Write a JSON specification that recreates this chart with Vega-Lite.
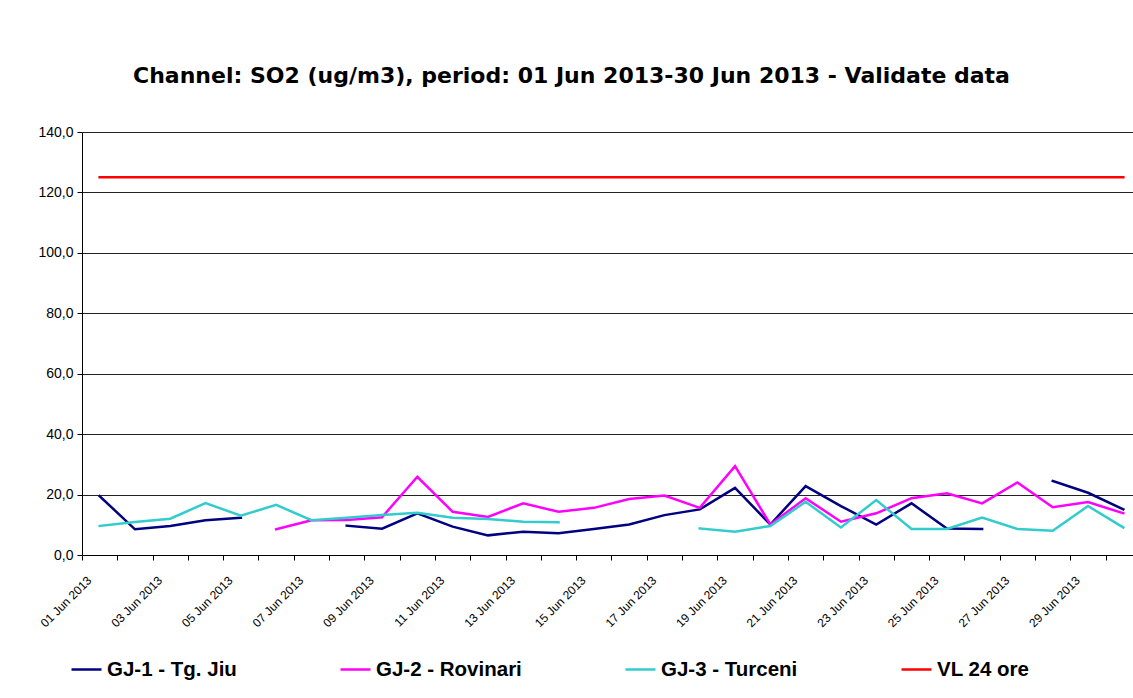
{
  "$schema": "https://vega.github.io/schema/vega-lite/v6.json",
  "width": 1051,
  "height": 423,
  "autosize": {"type": "none"},
  "padding": {"left": 82, "top": 132, "right": 0, "bottom": 143},
  "background": "white",
  "config": {
    "view": {"stroke": null},
    "axis": {"labelFont": "Liberation Sans", "labelColor": "black", "domainColor": "black", "tickColor": "black", "titleFont": "Liberation Sans"}
  },
  "title": {
    "text": "Channel: SO2 (ug/m3), period: 01 Jun 2013-30 Jun 2013 - Validate data",
    "font": "DejaVu Sans",
    "fontSize": 22,
    "fontWeight": "bold",
    "color": "black",
    "anchor": "middle",
    "dx": -36,
    "baseline": "alphabetic",
    "offset": 20
  },
  "data": {
    "values": [
      {"day": 1, "series": "GJ-1 - Tg. Jiu", "value": 19.5},
      {"day": 2, "series": "GJ-1 - Tg. Jiu", "value": 8.5},
      {"day": 3, "series": "GJ-1 - Tg. Jiu", "value": 9.6},
      {"day": 4, "series": "GJ-1 - Tg. Jiu", "value": 11.5},
      {"day": 5, "series": "GJ-1 - Tg. Jiu", "value": 12.3},
      {"day": 6, "series": "GJ-1 - Tg. Jiu", "value": null},
      {"day": 7, "series": "GJ-1 - Tg. Jiu", "value": null},
      {"day": 8, "series": "GJ-1 - Tg. Jiu", "value": 9.7},
      {"day": 9, "series": "GJ-1 - Tg. Jiu", "value": 8.7},
      {"day": 10, "series": "GJ-1 - Tg. Jiu", "value": 13.8},
      {"day": 11, "series": "GJ-1 - Tg. Jiu", "value": 9.4},
      {"day": 12, "series": "GJ-1 - Tg. Jiu", "value": 6.5},
      {"day": 13, "series": "GJ-1 - Tg. Jiu", "value": 7.7},
      {"day": 14, "series": "GJ-1 - Tg. Jiu", "value": 7.2},
      {"day": 15, "series": "GJ-1 - Tg. Jiu", "value": 8.6},
      {"day": 16, "series": "GJ-1 - Tg. Jiu", "value": 10.1},
      {"day": 17, "series": "GJ-1 - Tg. Jiu", "value": 13.2},
      {"day": 18, "series": "GJ-1 - Tg. Jiu", "value": 15.1},
      {"day": 19, "series": "GJ-1 - Tg. Jiu", "value": 22.2},
      {"day": 20, "series": "GJ-1 - Tg. Jiu", "value": 10.1},
      {"day": 21, "series": "GJ-1 - Tg. Jiu", "value": 22.8},
      {"day": 22, "series": "GJ-1 - Tg. Jiu", "value": 16.2},
      {"day": 23, "series": "GJ-1 - Tg. Jiu", "value": 10.1},
      {"day": 24, "series": "GJ-1 - Tg. Jiu", "value": 17.1},
      {"day": 25, "series": "GJ-1 - Tg. Jiu", "value": 8.8},
      {"day": 26, "series": "GJ-1 - Tg. Jiu", "value": 8.6},
      {"day": 27, "series": "GJ-1 - Tg. Jiu", "value": null},
      {"day": 28, "series": "GJ-1 - Tg. Jiu", "value": 24.5},
      {"day": 29, "series": "GJ-1 - Tg. Jiu", "value": 20.6},
      {"day": 30, "series": "GJ-1 - Tg. Jiu", "value": 15.1},
      {"day": 1, "series": "GJ-2 - Rovinari", "value": null},
      {"day": 2, "series": "GJ-2 - Rovinari", "value": null},
      {"day": 3, "series": "GJ-2 - Rovinari", "value": null},
      {"day": 4, "series": "GJ-2 - Rovinari", "value": null},
      {"day": 5, "series": "GJ-2 - Rovinari", "value": null},
      {"day": 6, "series": "GJ-2 - Rovinari", "value": 8.5},
      {"day": 7, "series": "GJ-2 - Rovinari", "value": 11.5},
      {"day": 8, "series": "GJ-2 - Rovinari", "value": 11.6},
      {"day": 9, "series": "GJ-2 - Rovinari", "value": 12.5},
      {"day": 10, "series": "GJ-2 - Rovinari", "value": 25.9},
      {"day": 11, "series": "GJ-2 - Rovinari", "value": 14.3},
      {"day": 12, "series": "GJ-2 - Rovinari", "value": 12.6},
      {"day": 13, "series": "GJ-2 - Rovinari", "value": 17.1},
      {"day": 14, "series": "GJ-2 - Rovinari", "value": 14.3},
      {"day": 15, "series": "GJ-2 - Rovinari", "value": 15.6},
      {"day": 16, "series": "GJ-2 - Rovinari", "value": 18.5},
      {"day": 17, "series": "GJ-2 - Rovinari", "value": 19.7},
      {"day": 18, "series": "GJ-2 - Rovinari", "value": 15.6},
      {"day": 19, "series": "GJ-2 - Rovinari", "value": 29.4},
      {"day": 20, "series": "GJ-2 - Rovinari", "value": 10.1},
      {"day": 21, "series": "GJ-2 - Rovinari", "value": 18.8},
      {"day": 22, "series": "GJ-2 - Rovinari", "value": 11.0},
      {"day": 23, "series": "GJ-2 - Rovinari", "value": 13.8},
      {"day": 24, "series": "GJ-2 - Rovinari", "value": 18.8},
      {"day": 25, "series": "GJ-2 - Rovinari", "value": 20.4},
      {"day": 26, "series": "GJ-2 - Rovinari", "value": 17.1},
      {"day": 27, "series": "GJ-2 - Rovinari", "value": 24.0},
      {"day": 28, "series": "GJ-2 - Rovinari", "value": 15.8},
      {"day": 29, "series": "GJ-2 - Rovinari", "value": 17.5},
      {"day": 30, "series": "GJ-2 - Rovinari", "value": 13.8},
      {"day": 1, "series": "GJ-3 - Turceni", "value": 9.6},
      {"day": 2, "series": "GJ-3 - Turceni", "value": 10.9},
      {"day": 3, "series": "GJ-3 - Turceni", "value": 12.0},
      {"day": 4, "series": "GJ-3 - Turceni", "value": 17.2},
      {"day": 5, "series": "GJ-3 - Turceni", "value": 13.0},
      {"day": 6, "series": "GJ-3 - Turceni", "value": 16.6},
      {"day": 7, "series": "GJ-3 - Turceni", "value": 11.5},
      {"day": 8, "series": "GJ-3 - Turceni", "value": 12.3},
      {"day": 9, "series": "GJ-3 - Turceni", "value": 13.2},
      {"day": 10, "series": "GJ-3 - Turceni", "value": 14.0},
      {"day": 11, "series": "GJ-3 - Turceni", "value": 12.3},
      {"day": 12, "series": "GJ-3 - Turceni", "value": 11.9},
      {"day": 13, "series": "GJ-3 - Turceni", "value": 11.0},
      {"day": 14, "series": "GJ-3 - Turceni", "value": 10.8},
      {"day": 15, "series": "GJ-3 - Turceni", "value": null},
      {"day": 16, "series": "GJ-3 - Turceni", "value": null},
      {"day": 17, "series": "GJ-3 - Turceni", "value": null},
      {"day": 18, "series": "GJ-3 - Turceni", "value": 8.8},
      {"day": 19, "series": "GJ-3 - Turceni", "value": 7.7},
      {"day": 20, "series": "GJ-3 - Turceni", "value": 9.6},
      {"day": 21, "series": "GJ-3 - Turceni", "value": 17.6},
      {"day": 22, "series": "GJ-3 - Turceni", "value": 9.1},
      {"day": 23, "series": "GJ-3 - Turceni", "value": 18.2},
      {"day": 24, "series": "GJ-3 - Turceni", "value": 8.6},
      {"day": 25, "series": "GJ-3 - Turceni", "value": 8.6},
      {"day": 26, "series": "GJ-3 - Turceni", "value": 12.4},
      {"day": 27, "series": "GJ-3 - Turceni", "value": 8.6},
      {"day": 28, "series": "GJ-3 - Turceni", "value": 8.0},
      {"day": 29, "series": "GJ-3 - Turceni", "value": 16.2},
      {"day": 30, "series": "GJ-3 - Turceni", "value": 9.1},
      {"day": 1, "series": "VL 24 ore", "value": 125},
      {"day": 2, "series": "VL 24 ore", "value": 125},
      {"day": 3, "series": "VL 24 ore", "value": 125},
      {"day": 4, "series": "VL 24 ore", "value": 125},
      {"day": 5, "series": "VL 24 ore", "value": 125},
      {"day": 6, "series": "VL 24 ore", "value": 125},
      {"day": 7, "series": "VL 24 ore", "value": 125},
      {"day": 8, "series": "VL 24 ore", "value": 125},
      {"day": 9, "series": "VL 24 ore", "value": 125},
      {"day": 10, "series": "VL 24 ore", "value": 125},
      {"day": 11, "series": "VL 24 ore", "value": 125},
      {"day": 12, "series": "VL 24 ore", "value": 125},
      {"day": 13, "series": "VL 24 ore", "value": 125},
      {"day": 14, "series": "VL 24 ore", "value": 125},
      {"day": 15, "series": "VL 24 ore", "value": 125},
      {"day": 16, "series": "VL 24 ore", "value": 125},
      {"day": 17, "series": "VL 24 ore", "value": 125},
      {"day": 18, "series": "VL 24 ore", "value": 125},
      {"day": 19, "series": "VL 24 ore", "value": 125},
      {"day": 20, "series": "VL 24 ore", "value": 125},
      {"day": 21, "series": "VL 24 ore", "value": 125},
      {"day": 22, "series": "VL 24 ore", "value": 125},
      {"day": 23, "series": "VL 24 ore", "value": 125},
      {"day": 24, "series": "VL 24 ore", "value": 125},
      {"day": 25, "series": "VL 24 ore", "value": 125},
      {"day": 26, "series": "VL 24 ore", "value": 125},
      {"day": 27, "series": "VL 24 ore", "value": 125},
      {"day": 28, "series": "VL 24 ore", "value": 125},
      {"day": 29, "series": "VL 24 ore", "value": 125},
      {"day": 30, "series": "VL 24 ore", "value": 125}
    ]
  },
  "mark": {"type": "line", "invalid": "break-paths-show-domains", "strokeCap": "square"},
  "encoding": {
    "x": {
      "field": "day",
      "type": "quantitative",
      "scale": {"domain": [0.5, 30.274], "nice": false, "zero": false},
      "axis": {
        "title": null,
        "grid": false,
        "values": [0.5, 1.5, 2.5, 3.5, 4.5, 5.5, 6.5, 7.5, 8.5, 9.5, 10.5, 11.5, 12.5, 13.5, 14.5, 15.5, 16.5, 17.5, 18.5, 19.5, 20.5, 21.5, 22.5, 23.5, 24.5, 25.5, 26.5, 27.5, 28.5, 29.5],
        "labelExpr": "(datum.value + 0.5) % 2 == 1 ? ((datum.value + 0.5 < 10 ? '0' : '') + (datum.value + 0.5) + ' Jun 2013') : ''",
        "labelAngle": -45,
        "labelAlign": "right",
        "labelBaseline": "middle",
        "labelOffset": 7,
        "labelPadding": 18,
        "labelFontSize": 12,
        "labelOverlap": false,
        "labelBound": false,
        "labelFlush": false,
        "tickSize": 5,
        "domainWidth": 1,
        "tickWidth": 1
      }
    },
    "y": {
      "field": "value",
      "type": "quantitative",
      "scale": {"domain": [0, 140], "nice": false, "zero": true},
      "axis": {
        "title": null,
        "values": [0, 20, 40, 60, 80, 100, 120, 140],
        "labelExpr": "replace(format(datum.value, '.1f'), '.', ',')",
        "labelFontSize": 14,
        "labelPadding": 4,
        "tickSize": 5,
        "grid": true,
        "gridColor": "#222222",
        "gridWidth": 1,
        "gridOpacity": 1
      }
    },
    "color": {
      "field": "series",
      "type": "nominal",
      "scale": {
        "domain": ["GJ-1 - Tg. Jiu", "GJ-2 - Rovinari", "GJ-3 - Turceni", "VL 24 ore"],
        "range": ["#000080", "#FF00FF", "#33CCCC", "#FF0000"]
      },
      "legend": {
        "title": null,
        "orient": "none",
        "direction": "horizontal",
        "legendX": -12,
        "legendY": 521,
        "symbolType": "stroke",
        "symbolSize": 900,
        "labelFont": "Liberation Sans",
        "labelFontWeight": "bold",
        "labelFontSize": 20.5,
        "labelColor": "black",
        "labelOffset": 4,
        "labelLimit": 400,
        "columnPadding": 98,
        "gridAlign": "each"
      }
    },
    "strokeWidth": {
      "field": "series",
      "type": "nominal",
      "scale": {
        "domain": ["GJ-1 - Tg. Jiu", "GJ-2 - Rovinari", "GJ-3 - Turceni", "VL 24 ore"],
        "range": [2.5, 2.5, 2.5, 4]
      },
      "legend": null
    }
  }
}
